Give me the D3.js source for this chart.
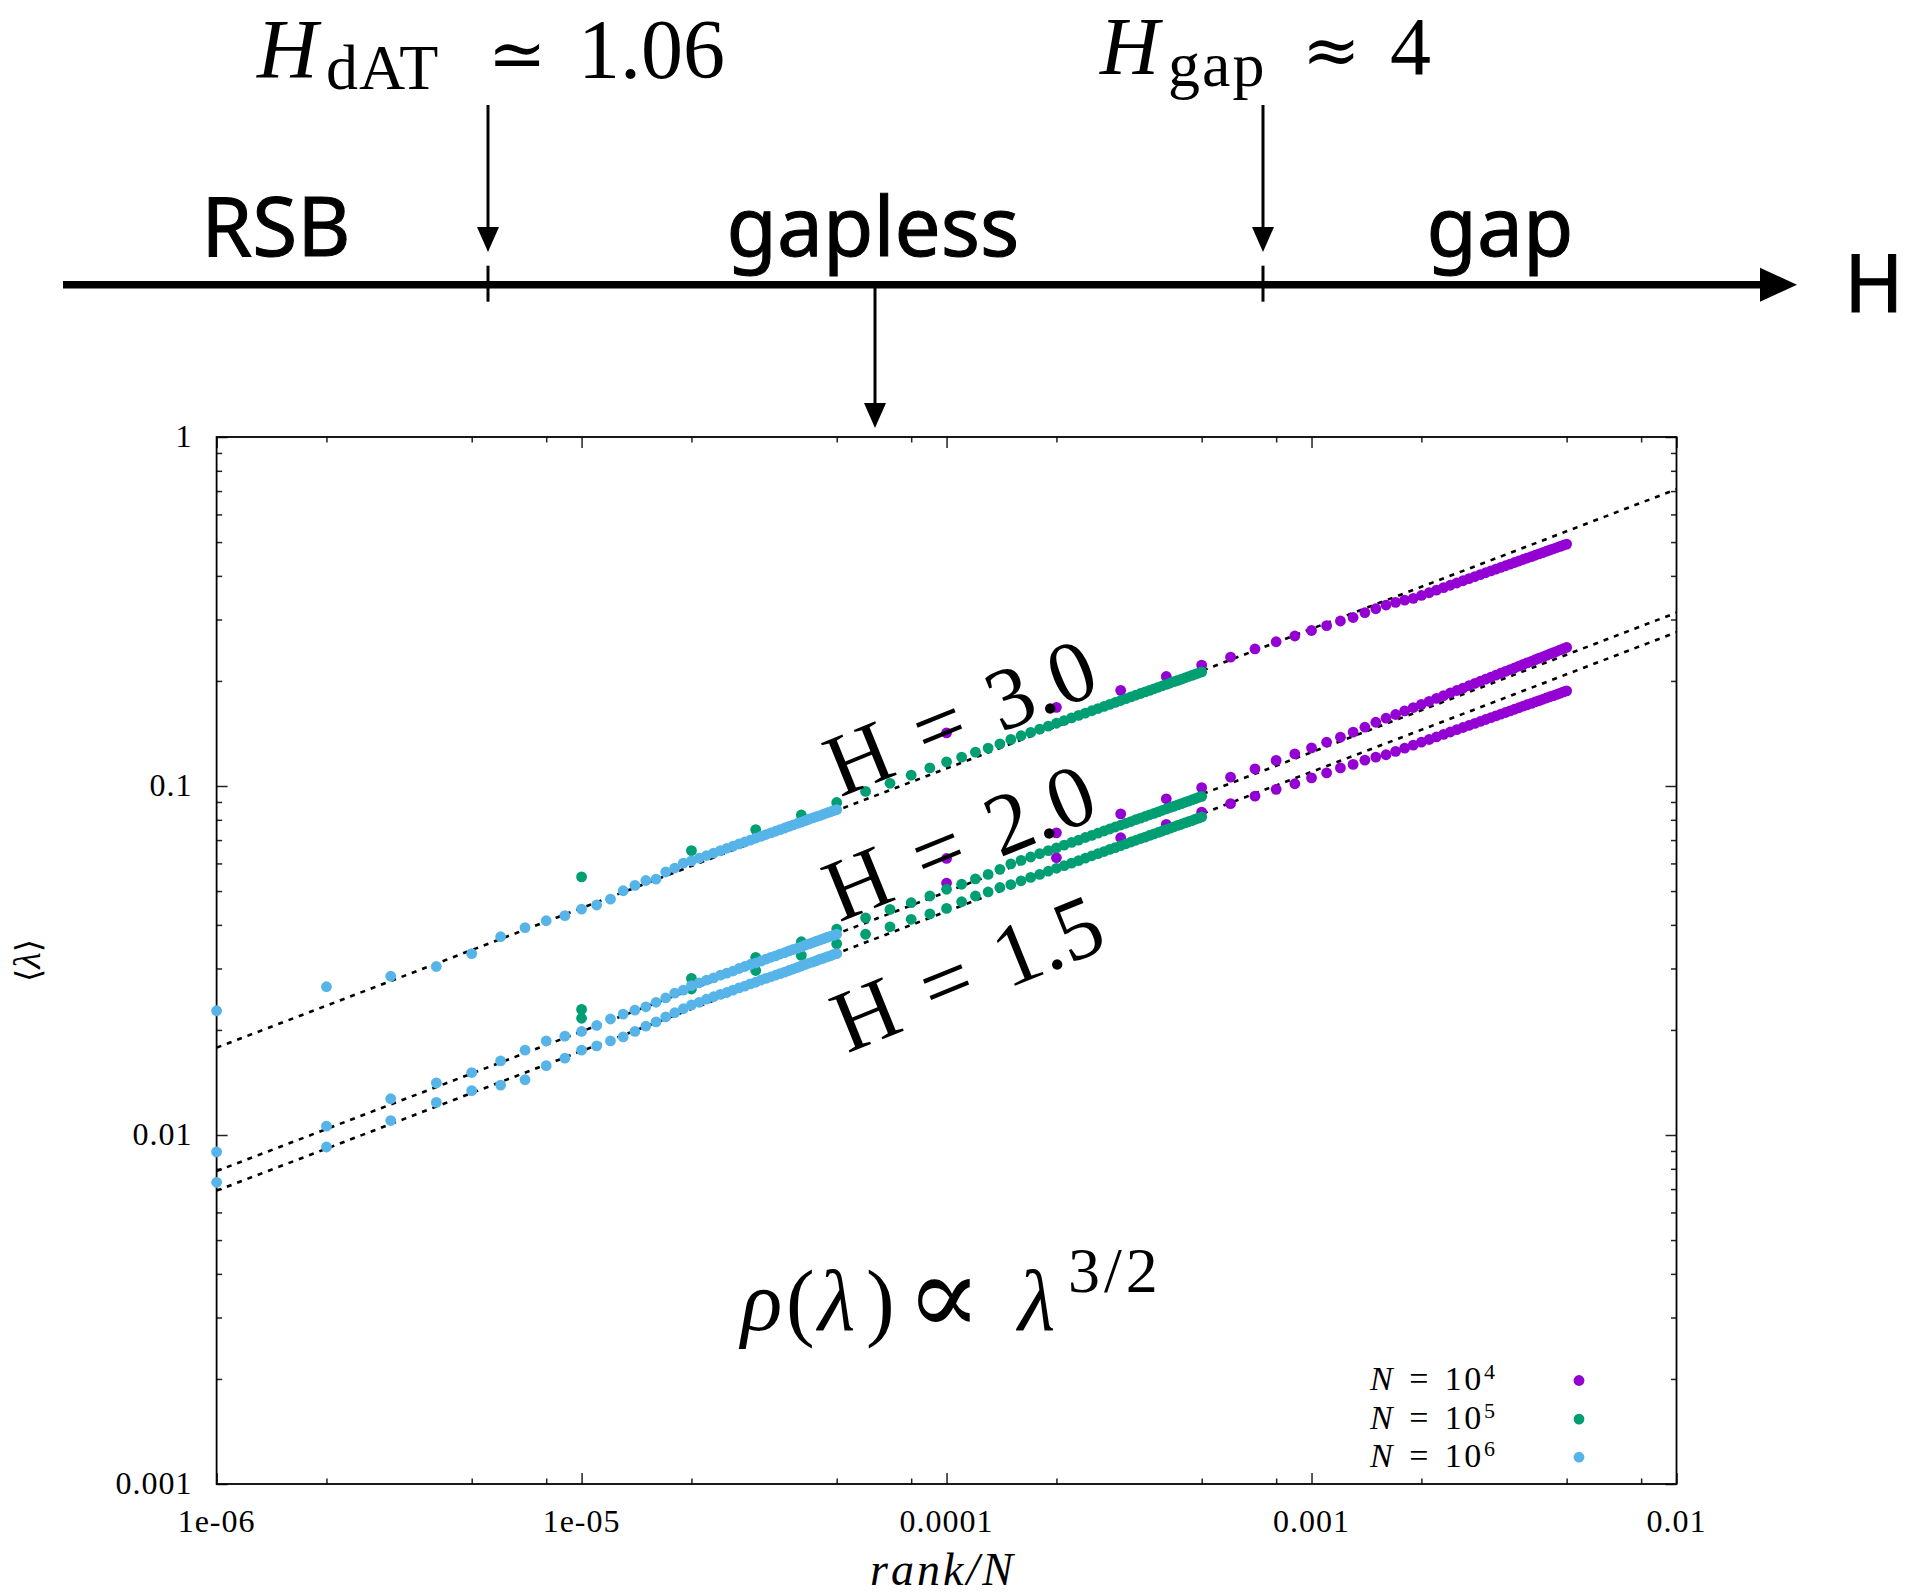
<!DOCTYPE html>
<html>
<head>
<meta charset="utf-8">
<script src="https://cdn.jsdelivr.net/npm/d3@7"></script>
<style>
  body { margin: 0; background: #fff; }
  svg { display: block; }
</style>
</head>
<body>
<svg id="fig" width="1908" height="1596"></svg>
<script>
// ---------------------------------------------------------------
// Mean eigenvalue <lambda> vs rank/N for three fields H and three sizes N
// ---------------------------------------------------------------
const fields = [3.0, 2.0, 1.5];
const sizes = [1e4, 1e5, 1e6];
const sizeLabels = ["4", "5", "6"];          // exponents shown in the legend
const seriesColors = ["#9400d3", "#009e73", "#56b4e9"];

const ranks = [1,2,3,4,5,6,7,8,9,10,11,12,13,14,15,16,17,18,19,20,
  21,22,23,24,25,26,27,28,29,30,31,32,33,34,35,36,37,38,39,40,
  41,42,43,44,45,46,47,48,49,50];

// H = 3.0
const lamH30N1e4 = [0.142,0.168,0.188,0.206,0.222,0.234,0.247,0.259,0.269,0.279,
  0.288,0.297,0.304,0.314,0.322,0.330,0.336,0.341,0.3449,0.3515,
  0.3579,0.3641,0.3701,0.3760,0.3817,0.3873,0.3928,0.3981,0.4033,0.4084,
  0.4134,0.4182,0.4230,0.4277,0.4324,0.4369,0.4413,0.4457,0.4500,0.4543,
  0.4584,0.4625,0.4665,0.4706,0.4745,0.4783,0.4822,0.4859,0.4897,0.4933];
const lamH30N1e5 = [0.0549,0.0653,0.0750,0.0826,0.0897,0.0965,0.1018,0.1074,0.1127,0.1173,
  0.1210,0.1250,0.1284,0.1320,0.1360,0.1393,0.1424,0.1455,0.1484,0.1513,
  0.1540,0.1567,0.1593,0.1618,0.1643,0.1667,0.1690,0.1713,0.1736,0.1758,
  0.1779,0.1800,0.1821,0.1841,0.1861,0.1880,0.1899,0.1918,0.1937,0.1955,
  0.1973,0.1991,0.2008,0.2025,0.2042,0.2059,0.2075,0.2091,0.2107,0.2123];
const lamH30N1e6 = [0.0227,0.0266,0.0285,0.0304,0.0331,0.0370,0.0393,0.0411,0.0425,0.0444,
  0.0456,0.0474,0.0501,0.0519,0.0536,0.0541,0.0567,0.0582,0.0601,0.0610,
  0.0621,0.0632,0.0642,0.0653,0.0663,0.0672,0.0682,0.0691,0.0700,0.0709,
  0.0717,0.0726,0.0734,0.0742,0.0750,0.0758,0.0766,0.0774,0.0781,0.0788,
  0.0796,0.0803,0.0810,0.0817,0.0823,0.0830,0.0837,0.0843,0.0850,0.0856];

// H = 2.0
const lamH20N1e4 = [0.0620,0.0734,0.0832,0.0919,0.0989,0.1060,0.1120,0.1184,0.1236,0.1286,
  0.1335,0.1380,0.1427,0.1474,0.1523,0.1564,0.1603,0.1641,0.1678,0.1714,
  0.1748,0.1782,0.1815,0.1847,0.1878,0.1908,0.1938,0.1967,0.1996,0.2024,
  0.2051,0.2078,0.2104,0.2130,0.2156,0.2181,0.2205,0.2230,0.2253,0.2277,
  0.2300,0.2323,0.2345,0.2368,0.2390,0.2411,0.2432,0.2454,0.2474,0.2495];
const lamH20N1e5 = [0.0229,0.0281,0.0323,0.0358,0.0389,0.0419,0.0443,0.0463,0.0484,0.0506,
  0.0523,0.0542,0.0558,0.0577,0.0598,0.0612,0.0626,0.0640,0.0653,0.0665,
  0.0677,0.0689,0.0700,0.0712,0.0722,0.0733,0.0743,0.0753,0.0763,0.0773,
  0.0782,0.0791,0.0801,0.0809,0.0818,0.0827,0.0835,0.0843,0.0852,0.0860,
  0.0868,0.0875,0.0883,0.0890,0.0898,0.0905,0.0912,0.0920,0.0927,0.0934];
const lamH20N1e6 = [0.00895,0.0106,0.0127,0.0141,0.0151,0.0163,0.0175,0.0186,0.0192,0.0198,
  0.0206,0.0215,0.0222,0.0228,0.0233,0.0240,0.0247,0.0255,0.0260,0.0268,
  0.0273,0.0278,0.0282,0.0287,0.0291,0.0295,0.0300,0.0304,0.0308,0.0311,
  0.0315,0.0319,0.0323,0.0326,0.0330,0.0333,0.0337,0.0340,0.0343,0.0346,
  0.0350,0.0353,0.0356,0.0359,0.0362,0.0365,0.0368,0.0371,0.0373,0.0376];

// H = 1.5
const lamH15N1e4 = [0.0527,0.0623,0.0711,0.0776,0.0842,0.0890,0.0935,0.0978,0.1015,0.1055,
  0.1090,0.1127,0.1153,0.1186,0.1210,0.1229,0.1257,0.1284,0.1310,0.1335,
  0.1359,0.1383,0.1406,0.1428,0.1450,0.1471,0.1491,0.1512,0.1531,0.1551,
  0.1570,0.1588,0.1606,0.1624,0.1642,0.1659,0.1676,0.1693,0.1709,0.1725,
  0.1741,0.1756,0.1772,0.1787,0.1802,0.1816,0.1831,0.1845,0.1860,0.1873];
const lamH15N1e5 = [0.0216,0.0262,0.0296,0.0327,0.0353,0.0376,0.0395,0.0415,0.0430,0.0446,
  0.0466,0.0484,0.0497,0.0512,0.0522,0.0535,0.0547,0.0558,0.0570,0.0581,
  0.0591,0.0601,0.0611,0.0621,0.0631,0.0640,0.0649,0.0658,0.0666,0.0675,
  0.0683,0.0691,0.0699,0.0707,0.0714,0.0722,0.0729,0.0736,0.0743,0.0750,
  0.0757,0.0764,0.0771,0.0777,0.0784,0.0790,0.0796,0.0803,0.0809,0.0815];
const lamH15N1e6 = [0.00732,0.00924,0.0110,0.0124,0.0134,0.0139,0.0144,0.0158,0.0166,0.0175,
  0.0180,0.0186,0.0191,0.0198,0.0205,0.0211,0.0218,0.0224,0.0230,0.0236,
  0.0240,0.0245,0.0249,0.0253,0.0256,0.0260,0.0264,0.0267,0.0271,0.0274,
  0.0278,0.0281,0.0284,0.0287,0.0290,0.0293,0.0296,0.0299,0.0302,0.0305,
  0.0308,0.0311,0.0313,0.0316,0.0319,0.0321,0.0324,0.0326,0.0329,0.0331];

// power-law fits  <lambda> = A (rank/N)^(2/5)
const fitExponent = 0.4;
const fitAmplitude = [4.47, 1.98, 1.74];
const fitRange = [1e-6, 1e-2];

const xTickLabels = ["1e-06", "1e-05", "0.0001", "0.001", "0.01"];
const yTickLabels = ["0.001", "0.01", "0.1", "1"];

const lamBySize = [
  [lamH30N1e4, lamH20N1e4, lamH15N1e4],
  [lamH30N1e5, lamH20N1e5, lamH15N1e5],
  [lamH30N1e6, lamH20N1e6, lamH15N1e6]
];

// ---------------------------------------------------------------
const W = 1908, H = 1596;
const svg = d3.select("#fig");
svg.append("rect").attr("width", W).attr("height", H).attr("fill", "#fff");

const serif = "'Liberation Serif', 'DejaVu Serif', serif";
const sans = "'Noto Sans', 'DejaVu Sans', sans-serif";
const symbolFont = "'DejaVu Serif', serif";

// ---------------- schematic field axis -------------------------
const diag = svg.append("g");
const axisLineY = 284.7;
const lineStart = 63, arrowBase = 1760, arrowTip = 1797;
const boundaries = [488, 1263];      // H_dAT and H_gap positions on the schematic
const zoomX = 875;                    // point of the gapless phase shown below

diag.append("line")
  .attr("x1", lineStart).attr("x2", arrowBase + 4)
  .attr("y1", axisLineY).attr("y2", axisLineY)
  .attr("stroke", "#000").attr("stroke-width", 7.5);
diag.append("path")
  .attr("d", `M${arrowBase},${axisLineY - 17}L${arrowTip},${axisLineY}L${arrowBase},${axisLineY + 17}Z`)
  .attr("fill", "#000");

boundaries.forEach(bx => {
  diag.append("line").attr("x1", bx).attr("x2", bx)
    .attr("y1", axisLineY - 19).attr("y2", axisLineY + 17)
    .attr("stroke", "#000").attr("stroke-width", 3);
  diag.append("line").attr("x1", bx).attr("x2", bx)
    .attr("y1", 105).attr("y2", 232)
    .attr("stroke", "#000").attr("stroke-width", 3);
  diag.append("path")
    .attr("d", `M${bx - 11},227L${bx},252L${bx + 11},227Z`)
    .attr("fill", "#000");
});

diag.append("line").attr("x1", zoomX).attr("x2", zoomX)
  .attr("y1", axisLineY).attr("y2", 408)
  .attr("stroke", "#000").attr("stroke-width", 3);
diag.append("path")
  .attr("d", `M${zoomX - 11},403L${zoomX},428L${zoomX + 11},403Z`)
  .attr("fill", "#000");

const phases = [
  { name: "RSB", x: 276 },
  { name: "gapless", x: 873 },
  { name: "gap", x: 1500 }
];
diag.selectAll("text.phase").data(phases).join("text")
  .attr("class", "phase")
  .attr("x", d => d.x).attr("y", 256)
  .attr("text-anchor", "middle")
  .attr("font-family", sans).attr("font-size", 82)
  .attr("stroke", "#000").attr("stroke-width", 1.0)
  .attr("fill", "#000")
  .text(d => d.name);

diag.append("text")
  .attr("x", 1874).attr("y", 312).attr("text-anchor", "middle")
  .attr("font-family", sans).attr("font-size", 80)
  .attr("stroke", "#000").attr("stroke-width", 1.0)
  .text("H");

// H_dAT ≃ 1.06
const tdat = diag.append("text").attr("y", 78).attr("font-family", serif).attr("font-size", 84);
tdat.append("tspan").attr("x", 257).attr("font-style", "italic").text("H");
tdat.append("tspan").attr("x", 326).attr("y", 89).attr("font-size", 64).attr("letter-spacing", 1).text("dAT");
tdat.append("tspan").attr("x", 488).attr("y", 78).attr("font-family", symbolFont).attr("font-size", 70).text("≃");
tdat.append("tspan").attr("x", 578).text("1.06");

// H_gap ≈ 4
const tgap = diag.append("text").attr("y", 74).attr("font-family", serif).attr("font-size", 82);
tgap.append("tspan").attr("x", 1100).attr("font-style", "italic").text("H");
tgap.append("tspan").attr("x", 1168).attr("y", 86).attr("font-size", 64).attr("letter-spacing", 2).text("gap");
tgap.append("tspan").attr("x", 1302).attr("y", 74).attr("font-family", symbolFont).attr("font-size", 70).text("≈");
tgap.append("tspan").attr("x", 1390).text("4");

// ---------------- log-log plot ---------------------------------
const plot = { left: 216.6, right: 1676.5, top: 437, bottom: 1484 };
const x = d3.scaleLog().domain([1e-6, 1e-2]).range([plot.left, plot.right]);
const y = d3.scaleLog().domain([1e-3, 1]).range([plot.bottom, plot.top]);

const xMajor = [1e-6, 1e-5, 1e-4, 1e-3, 1e-2];
const xMinor = x.ticks().filter(v => {
  const m = Math.round(v / Math.pow(10, Math.floor(Math.log10(v) + 1e-9)));
  return m === 2 || m === 5 || m === 8;
});
const yMajor = [1e-3, 1e-2, 1e-1, 1];
const yMinor = y.ticks().filter(v => {
  const m = Math.round(v / Math.pow(10, Math.floor(Math.log10(v) + 1e-9)));
  return m !== 1;
});

const axesG = svg.append("g");
function tickAxis(gen, values, size, transform) {
  const g = axesG.append("g").attr("transform", transform)
    .call(gen.tickValues(values).tickSize(size).tickFormat(""));
  g.select(".domain").remove();
  g.selectAll(".tick line").attr("stroke", "#222").attr("stroke-width", 1.5);
  return g;
}
// ticks on all four sides, pointing inward
tickAxis(d3.axisBottom(x), xMajor, -11, `translate(0,${plot.bottom})`);
tickAxis(d3.axisBottom(x), xMinor, -5.5, `translate(0,${plot.bottom})`);
tickAxis(d3.axisTop(x), xMajor, -11, `translate(0,${plot.top})`);
tickAxis(d3.axisTop(x), xMinor, -5.5, `translate(0,${plot.top})`);
tickAxis(d3.axisLeft(y), yMajor, -11, `translate(${plot.left},0)`);
tickAxis(d3.axisLeft(y), yMinor, -5.5, `translate(${plot.left},0)`);
tickAxis(d3.axisRight(y), yMajor, -11, `translate(${plot.right},0)`);
tickAxis(d3.axisRight(y), yMinor, -5.5, `translate(${plot.right},0)`);

axesG.append("rect")
  .attr("x", plot.left).attr("y", plot.top)
  .attr("width", plot.right - plot.left).attr("height", plot.bottom - plot.top)
  .attr("fill", "none").attr("stroke", "#000").attr("stroke-width", 1.8);

axesG.selectAll("text.xt").data(xMajor).join("text")
  .attr("class", "xt")
  .attr("x", d => x(d)).attr("y", plot.bottom + 48)
  .attr("text-anchor", "middle")
  .attr("font-family", serif).attr("font-size", 32).attr("letter-spacing", 1)
  .text((d, i) => xTickLabels[i]);

axesG.selectAll("text.yt").data(yMajor).join("text")
  .attr("class", "yt")
  .attr("x", plot.left - 24).attr("y", d => y(d) + 10)
  .attr("text-anchor", "end")
  .attr("font-family", serif).attr("font-size", 32).attr("letter-spacing", 1)
  .text((d, i) => yTickLabels[i]);

// axis titles
axesG.append("text")
  .attr("x", 943).attr("y", 1585).attr("text-anchor", "middle")
  .attr("font-family", serif).attr("font-size", 46).attr("font-style", "italic")
  .attr("letter-spacing", 3)
  .text("rank/N");

const yt = axesG.append("text")
  .attr("transform", "translate(40,960.5) rotate(-90)")
  .attr("text-anchor", "middle")
  .attr("font-family", serif).attr("font-size", 38);
yt.append("tspan").attr("font-family", symbolFont).attr("font-size", 34).text("⟨");
yt.append("tspan").attr("font-style", "italic").text("λ");
yt.append("tspan").attr("font-family", symbolFont).attr("font-size", 34).text("⟩");

// fitted power laws (dashed)
const fitLine = d3.line().x(d => x(d[0])).y(d => y(d[1]));
const fitG = svg.append("g");
fitAmplitude.forEach(A => {
  const pts = fitRange.map(r => [r, A * Math.pow(r, fitExponent)]);
  fitG.append("path").attr("d", fitLine(pts))
    .attr("fill", "none").attr("stroke", "#000")
    .attr("stroke-width", 2.6).attr("stroke-dasharray", "5,6");
});

// data points: for each size N, three fields
const ptsG = svg.append("g");
sizes.forEach((N, si) => {
  fields.forEach((h, hi) => {
    const vals = lamBySize[si][hi];
    ptsG.append("g").attr("fill", seriesColors[si])
      .selectAll("circle").data(ranks).join("circle")
      .attr("cx", k => x(k / N))
      .attr("cy", (k, i) => y(vals[i]))
      .attr("r", 5.4);
  });
});

// field labels along the curves
const fieldLabelPos = [
  { cx: 960, cy: 716 },
  { cx: 959, cy: 841 },
  { cx: 967, cy: 972 }
];
svg.append("g").selectAll("text").data(fields).join("text")
  .attr("transform", (d, i) => `translate(${fieldLabelPos[i].cx},${fieldLabelPos[i].cy}) rotate(-22)`)
  .attr("text-anchor", "middle").attr("dy", "0.35em")
  .attr("font-family", serif).attr("font-size", 88).attr("word-spacing", 8)
  .text(d => `H = ${d.toFixed(1)}`);

// density law annotation
const rho = svg.append("text").attr("y", 1330).attr("font-family", serif).attr("font-size", 86);
rho.append("tspan").attr("x", 741).attr("font-style", "italic").text("ρ");
rho.append("tspan").attr("x", 786).text("(");
rho.append("tspan").attr("x", 818).attr("font-style", "italic").text("λ");
rho.append("tspan").attr("x", 866).text(")");
rho.append("tspan").attr("x", 906).attr("y", 1334).attr("font-size", 112).text("∝");
rho.append("tspan").attr("x", 1018).attr("y", 1330).attr("font-style", "italic").text("λ");
rho.append("tspan").attr("x", 1068).attr("y", 1292).attr("font-size", 64).attr("letter-spacing", 4).text("3/2");

// legend: one text block, one line per system size
const legendRows = [1390, 1428.6, 1466.7];
const leg = svg.append("g");
const legText = leg.append("text").attr("font-family", serif).attr("font-size", 34)
  .attr("letter-spacing", 2.5).attr("word-spacing", 3);
sizes.forEach((N, i) => {
  legText.append("tspan").attr("x", 1370).attr("y", legendRows[i])
    .attr("font-style", "italic").text("N");
  legText.append("tspan").text(" = 10");
  legText.append("tspan").attr("y", legendRows[i] - 11).attr("font-size", 22).text(sizeLabels[i]);
  leg.append("circle").attr("cx", 1579).attr("cy", legendRows[i] - 9.5)
    .attr("r", 5.4).attr("fill", seriesColors[i]);
});
</script>
</body>
</html>
